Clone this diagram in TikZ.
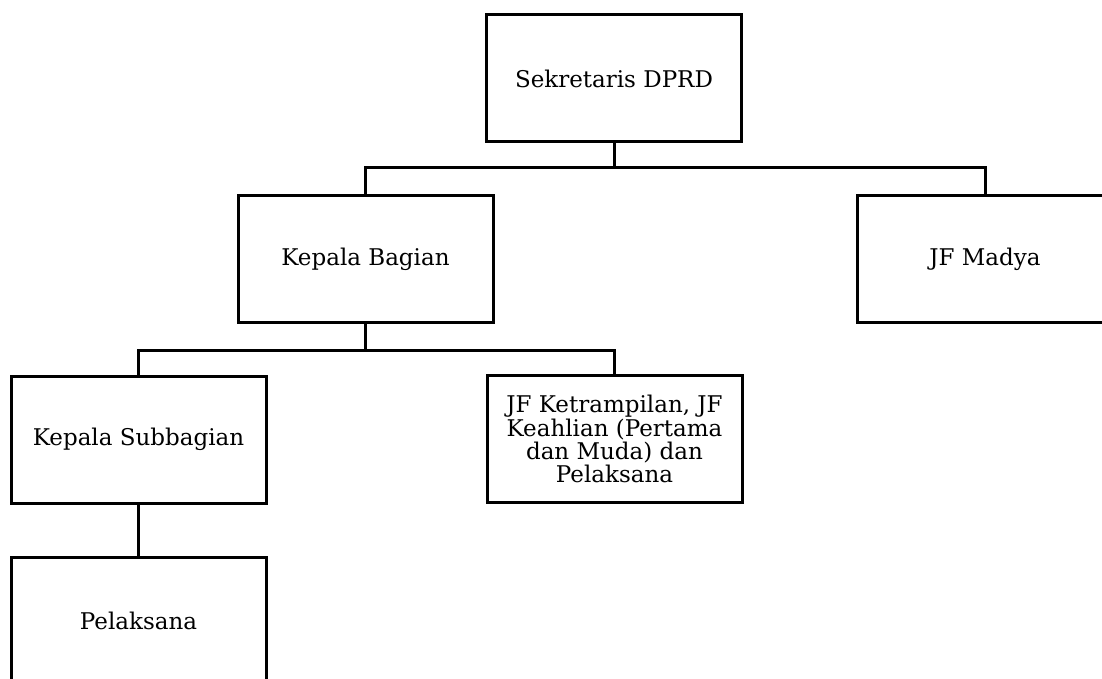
\documentclass[tikz,border=0pt]{standalone}
\usepackage{fontspec}
\setmainfont{DejaVu Serif}
\usepackage{tikz}
\usetikzlibrary{positioning}

\tikzset{
  unitbox/.style={draw, line width=1.5pt, minimum width=127.5pt, minimum height=63.5pt,
    align=center, inner sep=2pt, font=\fontsize{11.5}{10.2}\selectfont},
  link/.style={line width=1.5pt}
}

\begin{document}
\begin{tikzpicture}[x=0.5pt, y=-0.5pt]
    % Page frame (boxes run off the right and bottom edges)
    \clip (0,0) rectangle (1102,679);
    \fill[white] (0,0) rectangle (1102,679);

    % Boxes
    \node[unitbox] (sek) at (614,78.5) {Sekretaris DPRD};
    \node[unitbox] (kabag) at (365.5,259) {Kepala Bagian};
    \node[unitbox] (madya) at (985,259) {JF Madya};
    \node[unitbox] (kasubag) at (138.5,439.5) {Kepala Subbagian};
    \node[unitbox] (jft) at (614.5,439) {JF Ketrampilan, JF\\Keahlian (Pertama\\dan Muda) dan\\Pelaksana};
    \node[unitbox] (pel) at (138.5,620.5) {Pelaksana};

    % Branch points
    \coordinate (j1) at (614,168);
    \coordinate (j2) at (365.5,350);

    % Connectors
    \draw[link] (sek.south) -- (j1);
    \draw[link] (kabag.north) |- (j1) -| (madya.north);
    \draw[link] (kabag.south) -- (j2);
    \draw[link] (kasubag.north) |- (j2) -| (jft.north);
    \draw[link] (kasubag.south) -- (pel.north);

\end{tikzpicture}
\end{document}
